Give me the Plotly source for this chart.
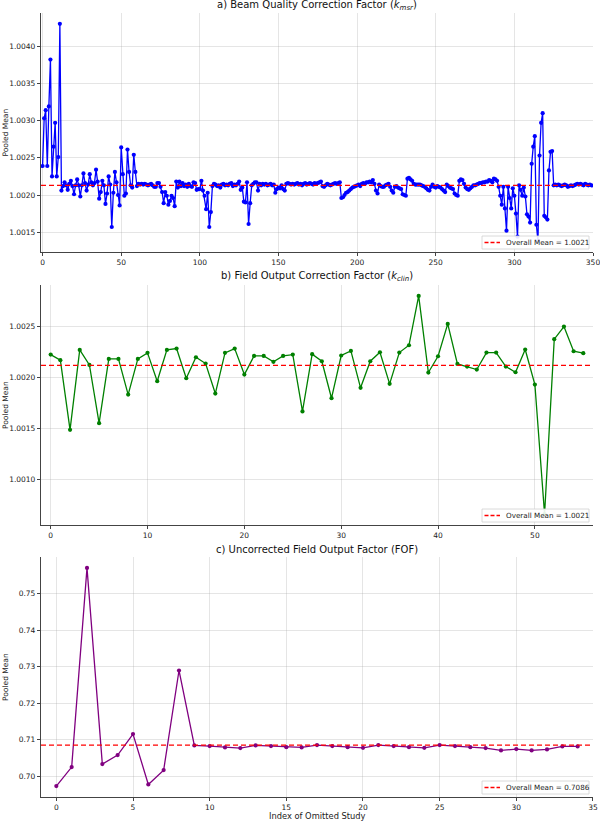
import plotly.graph_objects as go

# ---------------- data ----------------
kmsr_values = [
    1.00239, 1.00303, 1.00314, 1.00239, 1.00319, 1.00382, 1.00225, 1.00265, 1.00297, 1.00225,
    1.00251, 1.00430, 1.00206, 1.00212, 1.00217, 1.00213, 1.00207, 1.00215, 1.00219, 1.00212,
    1.00201, 1.00213, 1.00221, 1.00213, 1.00198, 1.00213, 1.00229, 1.00216, 1.00206, 1.00214,
    1.00228, 1.00217, 1.00213, 1.00216, 1.00234, 1.00218, 1.00195, 1.00204, 1.00219, 1.00213,
    1.00188, 1.00202, 1.00225, 1.00214, 1.00157, 1.00203, 1.00231, 1.00217, 1.00200, 1.00186,
    1.00264, 1.00228, 1.00199, 1.00202, 1.00261, 1.00231, 1.00213, 1.00210, 1.00254, 1.00231,
    1.00212, 1.00215, 1.00214, 1.00215, 1.00214, 1.00215, 1.00214, 1.00213, 1.00214, 1.00215,
    1.00213, 1.00211, 1.00211, 1.00216, 1.00216, 1.00211, 1.00204, 1.00189, 1.00204, 1.00199,
    1.00187, 1.00192, 1.00199, 1.00196, 1.00185, 1.00218, 1.00210, 1.00218, 1.00212, 1.00216,
    1.00212, 1.00214, 1.00211, 1.00215, 1.00212, 1.00211, 1.00217, 1.00216, 1.00207, 1.00208,
    1.00208, 1.00219, 1.00206, 1.00199, 1.00181, 1.00203, 1.00157, 1.00177, 1.00212, 1.00215,
    1.00214, 1.00212, 1.00213, 1.00210, 1.00214, 1.00215, 1.00213, 1.00214, 1.00213, 1.00215,
    1.00216, 1.00212, 1.00214, 1.00213, 1.00215, 1.00218, 1.00207, 1.00210, 1.00191, 1.00190,
    1.00217, 1.00161, 1.00189, 1.00213, 1.00215, 1.00217, 1.00217, 1.00206, 1.00215, 1.00213,
    1.00215, 1.00214, 1.00215, 1.00213, 1.00214, 1.00215, 1.00213, 1.00214, 1.00203, 1.00208,
    1.00210, 1.00209, 1.00213, 1.00208, 1.00206, 1.00215, 1.00216, 1.00215, 1.00214, 1.00215,
    1.00214, 1.00215, 1.00216, 1.00214, 1.00215, 1.00213, 1.00215, 1.00216, 1.00214, 1.00215,
    1.00216, 1.00215, 1.00214, 1.00216, 1.00215, 1.00216, 1.00217, 1.00218, 1.00212, 1.00211,
    1.00213, 1.00215, 1.00214, 1.00213, 1.00214, 1.00215, 1.00216, 1.00215, 1.00216, 1.00217,
    1.00196, 1.00197, 1.00200, 1.00203, 1.00204, 1.00206, 1.00208, 1.00210, 1.00211, 1.00212,
    1.00213, 1.00214, 1.00212, 1.00215, 1.00216, 1.00215, 1.00217, 1.00217, 1.00218, 1.00217,
    1.00220, 1.00215, 1.00206, 1.00202, 1.00214, 1.00212, 1.00211, 1.00211, 1.00213, 1.00214,
    1.00215, 1.00211, 1.00206, 1.00203, 1.00211, 1.00212, 1.00210, 1.00209, 1.00208, 1.00201,
    1.00200, 1.00199, 1.00222, 1.00223, 1.00221, 1.00219, 1.00215, 1.00214, 1.00214, 1.00214,
    1.00214, 1.00213, 1.00212, 1.00211, 1.00209, 1.00207, 1.00206, 1.00211, 1.00214, 1.00211,
    1.00210, 1.00212, 1.00211, 1.00210, 1.00208, 1.00206, 1.00204, 1.00214, 1.00212, 1.00210,
    1.00209, 1.00208, 1.00202, 1.00200, 1.00199, 1.00219, 1.00221, 1.00220, 1.00215, 1.00210,
    1.00208, 1.00207, 1.00209, 1.00211, 1.00213, 1.00213, 1.00214, 1.00215, 1.00216, 1.00216,
    1.00217, 1.00217, 1.00218, 1.00218, 1.00220, 1.00219, 1.00217, 1.00222, 1.00221, 1.00219,
    1.00211, 1.00199, 1.00187, 1.00211, 1.00182, 1.00152, 1.00211, 1.00196, 1.00182, 1.00209,
    1.00199, 1.00175, 1.00144, 1.00213, 1.00207, 1.00199, 1.00210, 1.00198, 1.00174, 1.00171,
    1.00163, 1.00242, 1.00265, 1.00279, 1.00160, 1.00138, 1.00253, 1.00297, 1.00310, 1.00172,
    1.00170, 1.00167, 1.00233, 1.00258, 1.00259, 1.00213, 1.00214, 1.00213, 1.00214, 1.00213,
    1.00212, 1.00213, 1.00214, 1.00213, 1.00211, 1.00212, 1.00213, 1.00212, 1.00213, 1.00214,
    1.00215, 1.00214, 1.00215, 1.00214, 1.00213, 1.00215, 1.00214, 1.00213, 1.00214, 1.00213,
]

kclin_values = [
    1.002225, 1.002170, 1.001487, 1.002271, 1.002124, 1.001552, 1.002183, 1.002183, 1.001833, 1.002183,
    1.002242, 1.001964, 1.002271, 1.002284, 1.001993, 1.002199, 1.002137, 1.001843, 1.002242, 1.002284,
    1.002029, 1.002212, 1.002212, 1.002154, 1.002212, 1.002225, 1.001667, 1.002229, 1.002160, 1.001797,
    1.002216, 1.002261, 1.001899, 1.002160, 1.002248, 1.001938, 1.002245, 1.002317, 1.002801, 1.002049,
    1.002209, 1.002526, 1.002134, 1.002108, 1.002078, 1.002245, 1.002245, 1.002108, 1.002052, 1.002275,
    1.001931, 1.000660, 1.002376, 1.002500, 1.002258, 1.002239,
]

fof_values = [
    0.69736, 0.70255, 0.75700, 0.70337, 0.70583, 0.71157, 0.69781, 0.70173, 0.72896, 0.70847,
    0.70829, 0.70792, 0.70774, 0.70847, 0.70829, 0.70801, 0.70792, 0.70856, 0.70829, 0.70801,
    0.70783, 0.70856, 0.70829, 0.70801, 0.70783, 0.70856, 0.70829, 0.70801, 0.70774, 0.70710,
    0.70747, 0.70710, 0.70738, 0.70820, 0.70820,
]

overall_means = [1.00213, 1.00212, 0.70856]
panel_titles = [
    "a) Beam Quality Correction Factor (<i>k</i><sub><i>msr</i></sub>)",
    "b) Field Output Correction Factor (<i>k</i><sub><i>clin</i></sub>)",
    "c) Uncorrected Field Output Factor (FOF)",
]
x_tick_steps = [50, 10, 5]
y_tick_steps = [0.0005, 0.0005, 0.01]
y_tick_formats = [".4f", ".4f", ".2f"]
line_colors = ["#0000ff", "#008000", "#800080"]
x_label = "Index of Omitted Study"
y_label = "Pooled Mean"
legend_prefix = "Overall Mean = "

series = [kmsr_values, kclin_values, fof_values]

# ---------------- layout geometry (pixels) ----------------
W, H = 600, 821
left_px, right_px = 41, 593
panels_px = [(13, 252), (285, 525), (557, 797)]  # top, bottom

FONT = "DejaVu Sans, Verdana, sans-serif"
fig = go.Figure()
annotations = []
shapes = []
layout_axes = {}


def px_x(v):
    return v / W


def px_y(v):
    return 1 - v / H


for i, vals in enumerate(series):
    n = len(vals)
    xs = list(range(n))
    ax_suffix = "" if i == 0 else str(i + 1)
    xa = "x" + ax_suffix
    ya = "y" + ax_suffix

    fig.add_trace(go.Scatter(
        x=xs, y=vals, mode="lines+markers", xaxis=xa, yaxis=ya,
        line=dict(color=line_colors[i], width=1.3),
        marker=dict(color=line_colors[i], size=4.2),
        showlegend=False,
    ))
    m = overall_means[i]
    fig.add_trace(go.Scatter(
        x=[-1, n], y=[m, m], mode="lines", xaxis=xa, yaxis=ya,
        line=dict(color="#ff0000", width=1.3, dash="5px,3px"),
        name=legend_prefix + "{:.4f}".format(m), showlegend=False,
    ))

    vmin, vmax = min(vals), max(vals)
    span = vmax - vmin
    yr = [vmin - 0.05 * span, vmax + 0.05 * span]

    top, bot = panels_px[i]
    ydom = [px_y(bot), px_y(top)]
    xdom = [px_x(left_px), px_x(right_px)]

    axis_common = dict(
        showline=True, linecolor="#444444", linewidth=1.2,
        ticks="outside", ticklen=3, tickwidth=0.9, tickcolor="#444444",
        showgrid=True, gridcolor="rgba(160,160,160,0.28)", gridwidth=0.7,
        zeroline=False, automargin=False, ticklabeloverflow="allow",
        tickfont=dict(family=FONT, size=7.5, color="#222222"),
    )
    xticks = list(range(0, n + 1, x_tick_steps[i]))
    if xticks[-1] < n and n % x_tick_steps[i] == 0:
        xticks.append(n)
    layout_axes["xaxis" + ax_suffix] = dict(
        axis_common, domain=xdom, range=[-1, n + 0.001],
        tickmode="array", tickvals=xticks, ticktext=[str(t) for t in xticks],
        anchor=ya,
    )
    layout_axes["yaxis" + ax_suffix] = dict(
        axis_common, domain=ydom, range=yr, tick0=0, dtick=y_tick_steps[i],
        tickformat=y_tick_formats[i], anchor=xa,
    )

    # hand-drawn legend box (bottom-right of each panel)
    lb_top, lb_bot = bot - 16, bot - 3
    lb_left, lb_right = 482, 589
    shapes.append(dict(
        type="rect", xref="paper", yref="paper", layer="above",
        x0=px_x(lb_left), x1=px_x(lb_right), y0=px_y(lb_bot), y1=px_y(lb_top),
        fillcolor="rgba(255,255,255,0.9)", line=dict(color="#d0d0d0", width=0.8),
    ))
    ymid = (lb_top + lb_bot) / 2
    shapes.append(dict(
        type="line", xref="paper", yref="paper", layer="above",
        x0=px_x(484.5), x1=px_x(500), y0=px_y(ymid), y1=px_y(ymid),
        line=dict(color="#ff0000", width=1.3, dash="4px,2px"),
    ))
    annotations.append(dict(
        text=legend_prefix + "{:.4f}".format(m), xref="paper", yref="paper",
        x=px_x(503.5), y=px_y(ymid), xanchor="left", yanchor="middle",
        showarrow=False, font=dict(family=FONT, size=7.2, color="#222222"),
    ))

    # panel title
    annotations.append(dict(
        text=panel_titles[i], xref="paper", yref="paper",
        x=px_x((left_px + right_px) / 2), y=px_y(top - 8),
        xanchor="center", yanchor="middle", showarrow=False,
        font=dict(family=FONT, size=10, color="#111111"),
    ))
    # y label
    annotations.append(dict(
        text=y_label, xref="paper", yref="paper",
        x=px_x(5), y=px_y((top + bot) / 2), textangle=-90,
        xanchor="center", yanchor="middle", showarrow=False,
        font=dict(family=FONT, size=7.5, color="#222222"),
    ))

annotations.append(dict(
    text=x_label, xref="paper", yref="paper",
    x=px_x((left_px + right_px) / 2), y=px_y(816),
    xanchor="center", yanchor="middle", showarrow=False,
    font=dict(family=FONT, size=8.3, color="#222222"),
))

fig.update_layout(
    width=W, height=H,
    margin=dict(l=0, r=0, t=0, b=0),
    paper_bgcolor="white", plot_bgcolor="white",
    annotations=annotations, shapes=shapes,
    showlegend=False,
    font=dict(family=FONT),
    **layout_axes,
)

fig.write_html("out.html")
